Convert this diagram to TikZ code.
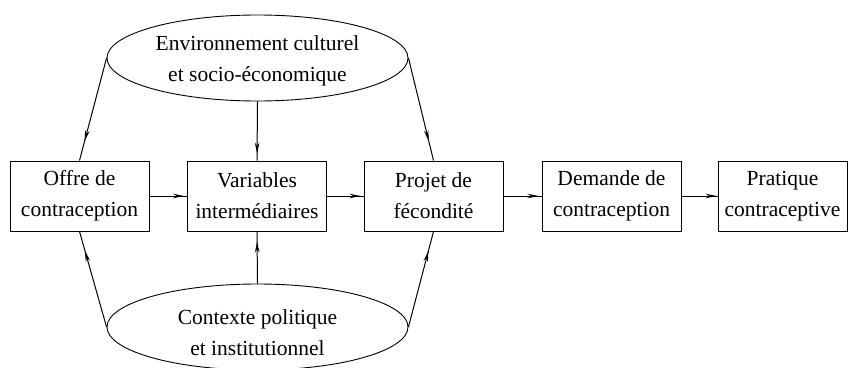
\documentclass[tikz,border=0pt]{standalone}
\usepackage{fontspec}
\setmainfont{Liberation Serif}
\usetikzlibrary{arrows.meta,decorations.markings,shapes.geometric}
\begin{document}
\begin{tikzpicture}[x=1pt,y=-1pt,
  txt/.style={align=center, font=\fontsize{21.5}{31}\selectfont},
  box/.style={txt, draw, line width=1pt, minimum width=139pt, minimum height=70pt, inner sep=0pt},
  ell/.style={txt, draw, ellipse, line width=0.9pt, minimum width=301pt, minimum height=86pt, inner sep=0pt},
  link/.style={line width=1pt, postaction={decorate},
    decoration={markings, mark=at position #1 with {\arrow{Stealth[length=11pt,width=4.5pt]}}}},
]
\useasboundingbox (0,0) rectangle (853,367);
\node[box] (offre) at (79.5,196) {Offre de\\contraception};
\node[box] (var) at (257,196) {Variables\\intermédiaires};
\node[box] (projet) at (433.5,196) {Projet de\\fécondité};
\node[box] (dem) at (611.5,196) {Demande de\\contraception};
\node[box, minimum width=129pt] (prat) at (782.5,196) {Pratique\\contraceptive};
\node[ell] (env) at (257.5,58) {};
\node[txt] (envt) at (257.5,61) {Environnement culturel\\et socio-économique};
\node[ell] (ctx) at (257.5,327) {};
\node[txt] (ctxt) at (257.5,333) {Contexte politique\\et institutionnel};
\draw[link=-3pt] (offre.east) -- (var.west);
\draw[link=-3pt] (var.east) -- (projet.west);
\draw[link=-3pt] (projet.east) -- (dem.west);
\draw[link=-1pt] (dem.east) -- (prat.west);
\draw[link=-20pt] (env.west) -- (offre.north);
\draw[link=-7pt] (env.south) -- (var.north);
\draw[link=-20pt] (env.east) -- (projet.north);
\draw[link=-20pt] (ctx.west) -- (offre.south);
\draw[link=-10pt] (ctx.north) -- (var.south);
\draw[link=-20pt] (ctx.east) -- (projet.south);
\end{tikzpicture}
\end{document}
